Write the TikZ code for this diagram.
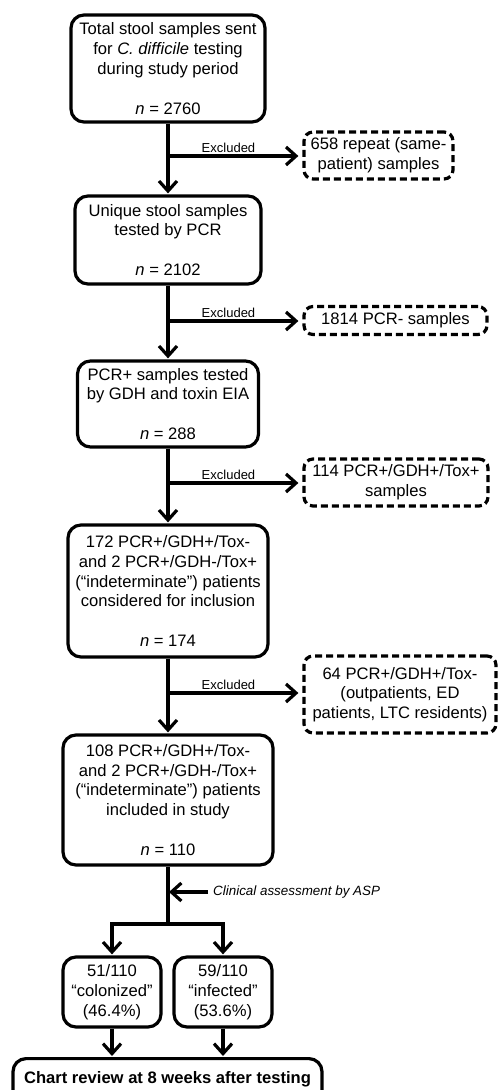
\documentclass[tikz,border=0pt]{standalone}
\usepackage{fontspec}
\setmainfont{Liberation Sans}
\usetikzlibrary{arrows.meta}
\newcommand\mfs{\fontsize{16.6}{19.8}\selectfont}
\newcommand\sfs{\fontsize{13}{15}\selectfont}
\newcommand\cfs{\fontsize{13.4}{16}\selectfont\itshape}
\begin{document}
\begin{tikzpicture}[x=1pt,y=-1pt,
  box/.style={draw, line width=3.2pt, rounded corners=13pt, align=center, inner sep=0pt, font=\mfs},
  dbox/.style={draw, line width=3.2pt, dash pattern=on 7pt off 4pt, rounded corners=9pt, align=center, inner sep=0pt, font=\mfs},
  conn/.style={line width=3.2pt},
  arr/.style={line width=3.2pt, -{Straight Barb[length=10pt,width=18pt]}, shorten >=1pt},
  excl/.style={font=\sfs, above, pos=0.45, inner sep=1.5pt}]
\useasboundingbox (0,0) rectangle (498,1090);
\fill[white] (0,0) rectangle (498,1090);
\clip (0,0) rectangle (498,1090);

% main boxes
\node[box, minimum width=194pt, minimum height=107pt] (b1) at (168,68.5)
  {Total stool samples sent\\for \textit{C. difficile} testing\\during study period\\[20pt]\textit{n} = 2760};
\node[box, minimum width=186pt, minimum height=88pt] (b2) at (168,240)
  {Unique stool samples\\tested by PCR\\[20pt]\textit{n} = 2102};
\node[box, minimum width=181pt, minimum height=86pt] (b3) at (168,404)
  {PCR+ samples tested\\by GDH and toxin EIA\\[20pt]\textit{n} = 288};
\node[box, minimum width=200pt, minimum height=132pt] (b4) at (168,591)
  {172 PCR+/GDH+/Tox-\\and 2 PCR+/GDH-/Tox+\\(“indeterminate”) patients\\considered for inclusion\\[20pt]\textit{n} = 174};
\node[box, minimum width=210pt, minimum height=130pt] (b5) at (168,800)
  {108 PCR+/GDH+/Tox-\\and 2 PCR+/GDH-/Tox+\\(“indeterminate”) patients\\included in study\\[20pt]\textit{n} = 110};
\node[box, minimum width=98pt, minimum height=70pt] (b6) at (112,992)
  {51/110\\“colonized”\\(46.4\%)};
\node[box, minimum width=98pt, minimum height=70pt] (b7) at (223,992)
  {59/110\\“infected”\\(53.6\%)};
\node[box, minimum width=309pt, minimum height=44pt, text depth=6pt, anchor=north, font=\mfs\bfseries] (chart) at (167.5,1057)
  {Chart review at 8 weeks after testing};

% excluded boxes
\node[dbox, minimum width=149pt, minimum height=47pt] (d1) at (378.5,155.5)
  {658 repeat (same-\\patient) samples};
\node[dbox, minimum width=183pt, minimum height=28pt] (d2) at (395.5,320.5)
  {1814 PCR- samples};
\node[dbox, minimum width=184pt, minimum height=47pt] (d3) at (396,482.5)
  {114 PCR+/GDH+/Tox+\\samples};
\node[dbox, minimum width=192pt, minimum height=77pt] (d4) at (400,694.5)
  {64 PCR+/GDH+/Tox-\\(outpatients, ED\\patients, LTC residents)};

% junctions
\coordinate (j1) at (168,156);
\coordinate (j2) at (168,321);
\coordinate (j3) at (168,483);
\coordinate (j4) at (168,693);
\coordinate (c1) at (208,892);
\coordinate (sp) at (168,924);

% main flow
\draw[arr] (b1.south) -- (b2.north);
\draw[arr] (b2.south) -- (b3.north);
\draw[arr] (b3.south) -- (b4.north);
\draw[arr] (b4.south) -- (b5.north);

% exclusions
\draw[arr, shorten >=4pt] (j1) -- (j1 -| d1.west) node[excl] {Excluded};
\draw[arr, shorten >=4pt] (j2) -- (j2 -| d2.west) node[excl] {Excluded};
\draw[arr, shorten >=4pt] (j3) -- (j3 -| d3.west) node[excl] {Excluded};
\draw[arr, shorten >=4pt] (j4) -- (j4 -| d4.west) node[excl] {Excluded};

% clinical assessment
\draw[conn] (b5.south) -- (sp);
\draw[arr] (c1) -- (c1 -| b5.south);
\node[font=\cfs, anchor=west, inner sep=0pt] (clin) at (213,892) {Clinical assessment by ASP};
\draw[arr] (sp) -| (b6.north);
\draw[arr] (sp) -| (b7.north);
\draw[arr] (b6.south) -- (b6.south |- chart.north);
\draw[arr] (b7.south) -- (b7.south |- chart.north);
\end{tikzpicture}
\end{document}
